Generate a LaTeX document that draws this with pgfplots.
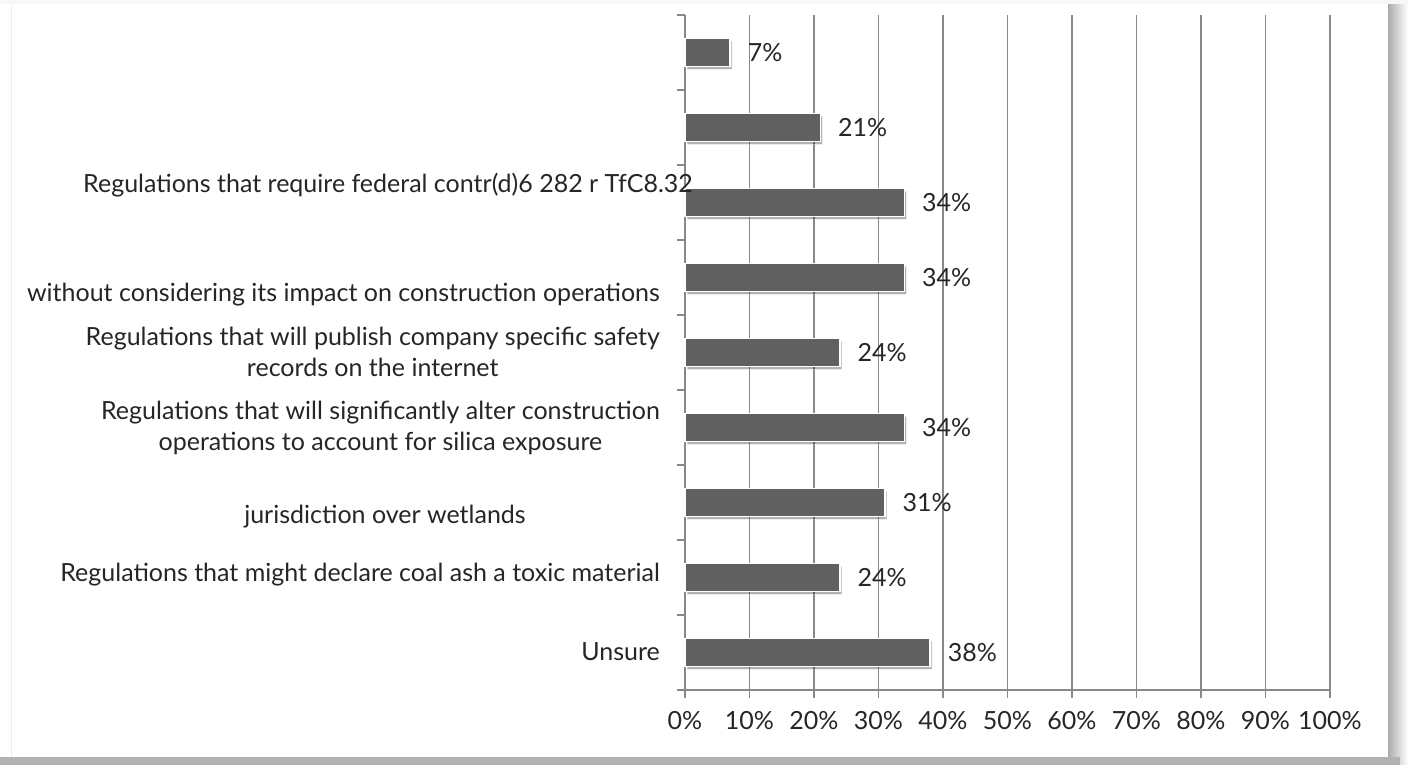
\documentclass[border=0pt]{standalone}
\usepackage{fontspec}
\setmainfont{Lato}
\usepackage{pgfplots}
\pgfplotsset{compat=1.18}
\usetikzlibrary{shadows}
\definecolor{barc}{RGB}{96,96,96}
\definecolor{gridc}{RGB}{136,136,136}
\definecolor{txt}{RGB}{38,38,38}
\newcommand\lab{\fontsize{25}{31}\selectfont}
\begin{document}
\begin{tikzpicture}[x=1pt,y=1pt]
\fill[white] (0,0) rectangle (1408,765);
\fill[gray!6] (0,761) rectangle (1408,765);
\shade[left color=gray!65, right color=white] (1388,0) rectangle (1408,760);
\fill[gray!60] (0,0) rectangle (1400,8);
\draw[gray!15, line width=1pt] (11,8) -- (11,760);
\begin{axis}[
  at={(685pt,75pt)}, anchor=south west,
  scale only axis, width=645pt, height=675pt,
  xmin=0, xmax=100, ymin=-0.5, ymax=8.5,
  xbar, bar width=28pt,
  axis x line*=bottom, axis y line*=left,
  axis line style={gridc, line width=1.6pt, -},
  xtick={0,10,...,100},
  xticklabels={0\%,10\%,20\%,30\%,40\%,50\%,60\%,70\%,80\%,90\%,100\%},
  ytick={-0.5,0.5,...,8.5}, yticklabels={},
  tick align=outside, major tick length=8pt,
  tick style={gridc, line width=1.6pt},
  xmajorgrids, grid style={gridc, line width=1.6pt},
  xticklabel style={font=\lab, text=txt, yshift=-10pt},
  point meta=x,
  nodes near coords={\pgfmathprintnumber[assume math mode=true]{\pgfplotspointmeta}\%},
  nodes near coords align=horizontal,
  every node near coord/.append style={font=\lab, text=txt, anchor=west, inner sep=0pt, xshift=17pt},
  clip=false,
]
\addplot[fill=barc, draw=white, line width=1.5pt,
  drop shadow={shadow xshift=2pt, shadow yshift=-3pt, opacity=0.3, fill=black}]
  coordinates {(38,0) (24,1) (31,2) (34,3) (24,4) (34,5) (34,6) (21,7) (7,8)};
\end{axis}
\begin{scope}[every node/.style={font=\lab, text=txt, inner sep=0pt}]
\node[anchor=east] at (693,580) {Regulations that require federal contr(d)6 282 r TfC8.32};
\node[anchor=east] at (660,470) {without considering its impact on construction operations};
\node[anchor=east, align=center] at (660,413) {Regulations that will publish company specific safety\\records on the internet};
\node[anchor=east, align=center] at (660,337) {Regulations that will significantly alter construction\\operations to account for silica exposure};
\node[anchor=center] at (385,248) {jurisdiction over wetlands};
\node[anchor=east] at (660,190) {Regulations that might declare coal ash a toxic material};
\node[anchor=east] at (660,113) {Unsure};
\end{scope}
\end{tikzpicture}
\end{document}
